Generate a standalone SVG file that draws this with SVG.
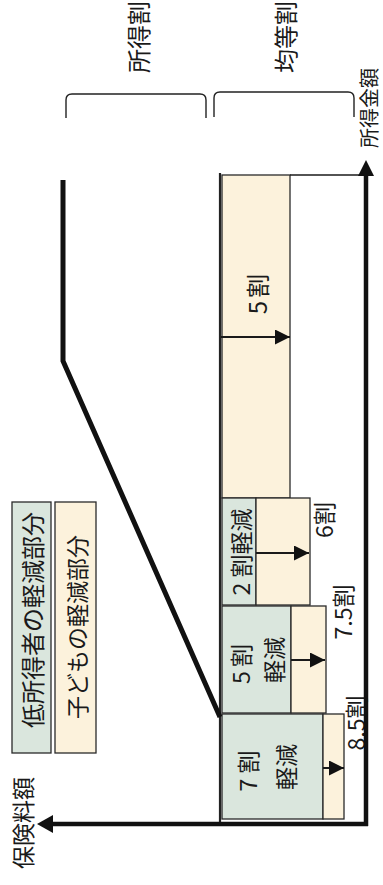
<svg xmlns="http://www.w3.org/2000/svg" width="383" height="885" viewBox="0 0 383 885">
<style>
text{font-family:"Noto Sans CJK JP","Noto Sans",sans-serif;fill:#1a1a1a;text-anchor:middle;dominant-baseline:central}
.g{fill:#dae6dd;stroke:#2a2a2a;stroke-width:1.3}
.b{fill:#fcf2dc;stroke:#2a2a2a;stroke-width:1.3}
.thin{fill:none;stroke:#1a1a1a;stroke-width:1.3}
.arr{stroke:#1a1a1a;stroke-width:2;fill:none;marker-end:url(#ah)}
.axis{stroke:#111;stroke-width:4.5;fill:none}
.curve{stroke:#111;stroke-width:5;fill:none;stroke-linejoin:miter}
.brace{fill:none;stroke:#222;stroke-width:1.4}
.lbl{font-size:23px}
</style>
<defs>
<marker id="ah" markerUnits="userSpaceOnUse" markerWidth="16" markerHeight="16" refX="15" refY="7.5" orient="auto">
<path d="M0,0 L15,7.5 L0,15 z" fill="#111"/>
</marker>
</defs>
<rect width="383" height="885" fill="#fff"/>

<g id="header-shotokuwari">
<path class="brace" d="M66,118 L66,100 Q66,94 72,94 L200,94 Q206,94 206,100 L206,118"/>
<text transform="translate(137,37) rotate(-90)" font-size="24">所得割</text>
</g>
<g id="header-kintouwari">
<path class="brace" d="M214,117 L214,98 Q214,92 220,92 L348,92 Q354,92 354,98 L354,117"/>
<text transform="translate(284,37) rotate(-90)" font-size="24">均等割</text>
</g>

<g id="legend-low-income">
<rect class="g" x="12" y="502" width="39" height="251"/>
<text transform="translate(31.5,620) rotate(-90)" font-size="24">低所得者の軽減部分</text>
</g>
<g id="legend-child">
<rect class="b" x="55" y="502" width="41" height="251"/>
<text transform="translate(75.5,627) rotate(-90)" font-size="23">子どもの軽減部分</text>
</g>

<g id="bar-5wari">
<rect class="b" x="222" y="175" width="68" height="323"/>
<line class="thin" x1="290" y1="175" x2="366" y2="175"/>
<text transform="translate(256,294) rotate(-90)" font-size="24">5<tspan dx="3">割</tspan></text>
</g>
<g id="bar-2wari">
<rect class="g" x="222" y="498" width="34" height="107"/>
<rect class="b" x="256" y="498" width="54" height="107"/>
<text class="lbl" transform="translate(240,552) rotate(-90)">2<tspan dx="5">割軽減</tspan></text>
<text class="lbl" transform="translate(323,520) rotate(-90)">6割</text>
</g>
<g id="bar-5wari-keigen">
<rect class="g" x="222" y="606" width="69" height="107"/>
<rect class="b" x="291" y="606" width="35" height="107"/>
<text class="lbl" transform="translate(240,664) rotate(-90)">5<tspan dx="4">割</tspan></text>
<text class="lbl" transform="translate(273,660) rotate(-90)">軽減</text>
<text class="lbl" transform="translate(342,612) rotate(-90)">7.5割</text>
</g>
<g id="bar-7wari-keigen">
<rect class="g" x="222" y="714" width="101" height="105"/>
<rect class="b" x="323" y="714" width="21" height="105"/>
<text class="lbl" transform="translate(247,771) rotate(-90)">7<tspan dx="5">割</tspan></text>
<text class="lbl" transform="translate(285,767) rotate(-90)">軽減</text>
<text class="lbl" transform="translate(355,723) rotate(-90)">8.5割</text>
</g>

<g id="axis-hokenryo">
<text transform="translate(22,823) rotate(-90)" font-size="23">保険料額</text>
</g>
<g id="axis-shotoku">
<text transform="translate(368,108) rotate(-90)" font-size="20">所得金額</text>
</g>

<g id="connectors">
<line x1="220" y1="173" x2="220" y2="823" stroke="#222" stroke-width="2.2"/>
<line class="arr" x1="221" y1="337" x2="290" y2="337"/>
<line class="arr" x1="256" y1="553" x2="309" y2="553"/>
<line class="arr" x1="291" y1="660" x2="325" y2="660"/>
<line class="arr" x1="323" y1="768" x2="344" y2="768"/>
<polyline class="curve" points="63,180 63,361 220,717"/>
<line class="axis" x1="366" y1="826" x2="366" y2="172"/>
<path d="M358,176 L366,160 L374,176 z" fill="#111"/>
<line class="axis" x1="368" y1="824" x2="50" y2="824"/>
<path d="M53,815 L37,824 L53,833 z" fill="#111"/>
</g>
</svg>
